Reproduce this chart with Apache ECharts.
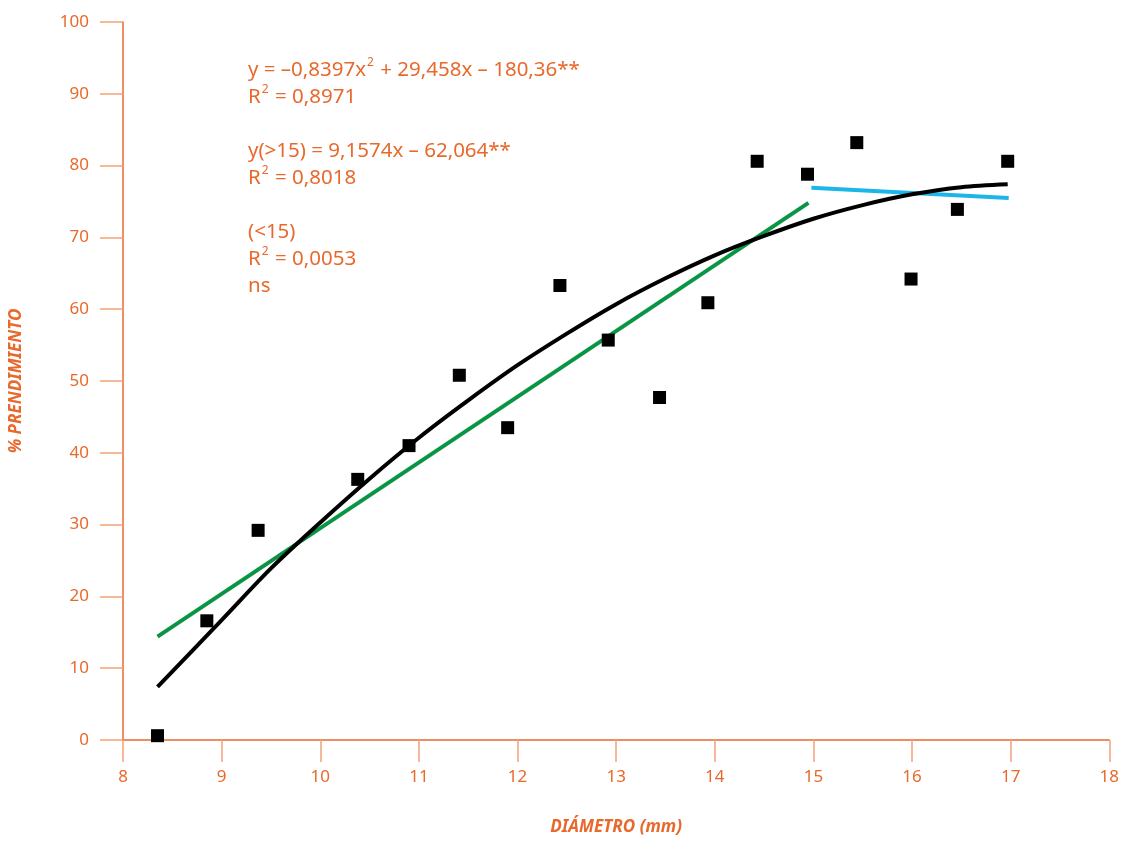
<!DOCTYPE html>
<html>
<head>
<meta charset="utf-8">
<script src="https://cdn.jsdelivr.net/npm/echarts@6/dist/echarts.min.js"></script>
<style>html,body{margin:0;padding:0;background:#fff}#c{width:1122px;height:841px}</style>
</head>
<body>
<div id="c"></div>
<script>
// Observed points: diameter (mm) and % prendimiento
const diameters = [8.35, 8.85, 9.37, 10.38, 10.9, 11.41, 11.9, 12.43, 12.92, 13.44, 13.93, 14.43, 14.94, 15.44, 15.99, 16.46, 16.97];
const rooting   = [0.6, 16.6, 29.2, 36.3, 41.0, 50.8, 43.5, 63.3, 55.7, 47.7, 60.9, 80.6, 78.8, 83.2, 64.2, 73.9, 80.6];

// Quadratic trend (black)
const quadX = [8.35, 9, 9.5, 10, 10.5, 11, 11.5, 12, 12.5, 13, 13.5, 14, 14.5, 15, 15.5, 16, 16.5, 16.97];
const quadY = [7.4, 16.7, 23.9, 30.3, 36.4, 42.1, 47.3, 52.2, 56.6, 60.7, 64.3, 67.5, 70.2, 72.6, 74.5, 76.0, 77.0, 77.4];

// Linear trend below 15 (green)
const greenX = [8.35, 14.95];
const greenY = [14.4, 74.8];

// Linear trend above 15 (blue)
const blueX = [14.98, 16.98];
const blueY = [76.9, 75.5];

// Axis ticks
const xMin = 8, xMax = 18, xStep = 1;
const yMin = 0, yMax = 100, yStep = 10;

const ORANGE = '#e8692c';
const TICKCOL = '#f2a277';
const FONT = 'Noto Sans';

const zip = (a, b) => a.map((v, i) => [v, b[i]]);

const chart = echarts.init(document.getElementById('c'), null, {renderer: 'canvas'});

const sup = {fontSize: 12, fontFamily: FONT, fill: ORANGE, color: ORANGE, verticalAlign: 'top', lineHeight: 27, padding: [0, 1, 8, 1]};
const base = {fontSize: 20.5, fontFamily: FONT, fill: ORANGE, color: ORANGE, lineHeight: 27};

chart.setOption({
  animation: false,
  grid: {left: 123, right: 10, top: 22, bottom: 95, containLabel: false},
  xAxis: {
    type: 'value', min: xMin, max: xMax, interval: xStep,
    name: 'DIÁMETRO (mm)', nameLocation: 'middle', nameGap: 79,
    nameTextStyle: {color: ORANGE, fontFamily: FONT, fontWeight: 'bold', fontStyle: 'italic', fontSize: 17},
    axisLine: {show: true, onZero: false, lineStyle: {color: ORANGE, width: 1.5}},
    axisTick: {show: true, length: 22, lineStyle: {color: TICKCOL, width: 1.5}},
    axisLabel: {color: ORANGE, fontFamily: FONT, fontSize: 17, margin: 29},
    splitLine: {show: false}
  },
  yAxis: {
    type: 'value', min: yMin, max: yMax, interval: yStep,
    name: '% PRENDIMIENTO', nameLocation: 'middle', nameGap: 98, nameRotate: 90,
    nameTextStyle: {color: ORANGE, fontFamily: FONT, fontWeight: 'bold', fontStyle: 'italic', fontSize: 17},
    axisLine: {show: true, lineStyle: {color: ORANGE, width: 1.5}},
    axisTick: {show: true, length: 23, lineStyle: {color: TICKCOL, width: 1.5}},
    axisLabel: {color: ORANGE, fontFamily: FONT, fontSize: 17, margin: 34},
    splitLine: {show: false}
  },
  series: [
    {type: 'line', data: zip(greenX, greenY), showSymbol: false, lineStyle: {color: '#0b9444', width: 4}, z: 2},
    {type: 'line', data: zip(blueX, blueY), showSymbol: false, lineStyle: {color: '#1cb6e8', width: 4}, z: 2},
    {type: 'line', data: zip(quadX, quadY), smooth: 0.3, showSymbol: false, lineStyle: {color: '#000', width: 4}, z: 3},
    {type: 'scatter', data: zip(diameters, rooting), symbol: 'rect', symbolSize: 13, itemStyle: {color: '#000', opacity: 1}, z: 4}
  ],
  graphic: [{
    type: 'text', left: 248, top: 57,
    style: {
      fill: ORANGE,
      text: [
        '{b|y = –0,8397x}{s|2}{b| + 29,458x – 180,36**}',
        '{b|R}{s|2}{b| = 0,8971}',
        '{b| }',
        '{b|y(>15) = 9,1574x – 62,064**}',
        '{b|R}{s|2}{b| = 0,8018}',
        '{b| }',
        '{b|(<15)}',
        '{b|R}{s|2}{b| = 0,0053}',
        '{b|ns}'
      ].join('\n'),
      rich: {b: base, s: sup}
    }
  }]
});
</script>
</body>
</html>
